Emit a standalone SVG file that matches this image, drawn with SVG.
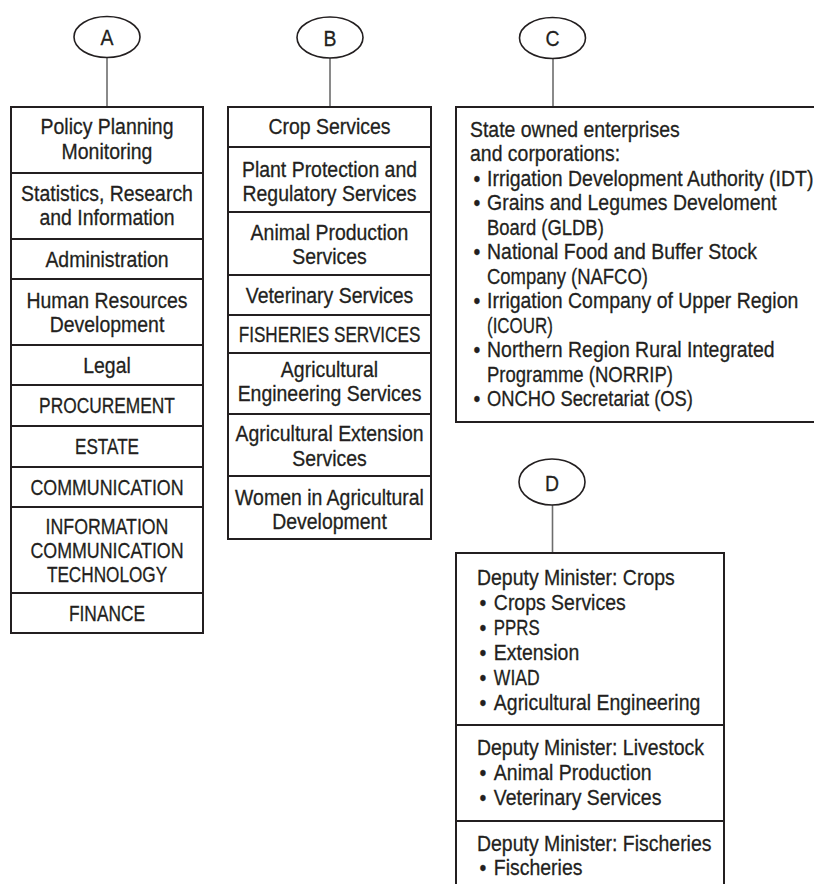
<svg xmlns="http://www.w3.org/2000/svg" width="814" height="884" viewBox="0 0 814 884">
<style>
.bg{fill:#fff}
.cell{fill:#fff;stroke:#231f20;stroke-width:2}
.oval{fill:#fff;stroke:#231f20;stroke-width:1.6}
.conn{stroke:#6d6d6d;stroke-width:1.6;fill:none}
.t{font-family:"Liberation Sans",Arial,sans-serif;font-size:22.5px;fill:#231f20;stroke:#231f20;stroke-width:0.3}
.m{text-anchor:middle}
</style>
<rect class="bg" x="0" y="0" width="814" height="884"/>
<g id="connectors">
<line class="conn" x1="107" y1="57" x2="107" y2="107"/>
<line class="conn" x1="330" y1="58" x2="330" y2="107"/>
<line class="conn" x1="553" y1="58" x2="553" y2="107"/>
<line class="conn" x1="552.5" y1="505" x2="552.5" y2="553"/>
</g>
<g id="label-A">
<ellipse class="oval" cx="107" cy="37" rx="33" ry="20.5"/>
<text class="t m" transform="translate(107,45) scale(0.865,1)">A</text>
</g>
<g id="label-B">
<ellipse class="oval" cx="330" cy="37.5" rx="33" ry="20.5"/>
<text class="t m" transform="translate(330,45.5) scale(0.865,1)">B</text>
</g>
<g id="label-C">
<ellipse class="oval" cx="552.5" cy="38" rx="33" ry="20.5"/>
<text class="t m" transform="translate(552.5,46) scale(0.865,1)">C</text>
</g>
<g id="label-D">
<ellipse class="oval" cx="552" cy="482" rx="33" ry="23"/>
<text class="t m" transform="translate(552,490.5) scale(0.865,1)">D</text>
</g>
<g id="box-A">
<rect class="cell" x="11" y="107" width="192" height="66"/>
<rect class="cell" x="11" y="173" width="192" height="66"/>
<rect class="cell" x="11" y="239" width="192" height="40"/>
<rect class="cell" x="11" y="279" width="192" height="66"/>
<rect class="cell" x="11" y="345" width="192" height="40"/>
<rect class="cell" x="11" y="385" width="192" height="41"/>
<rect class="cell" x="11" y="426" width="192" height="41"/>
<rect class="cell" x="11" y="467" width="192" height="40"/>
<rect class="cell" x="11" y="507" width="192" height="86"/>
<rect class="cell" x="11" y="593" width="192" height="40"/>
<g transform="translate(107,0) scale(0.865,1)">
<text class="t m" y="134.5">Policy Planning</text>
<text class="t m" y="159">Monitoring</text>
<text class="t m" y="201.5">Statistics, Research</text>
<text class="t m" y="225.5">and Information</text>
<text class="t m" y="267">Administration</text>
<text class="t m" y="308.5">Human Resources</text>
<text class="t m" y="332.5">Development</text>
<text class="t m" y="373">Legal</text>
<text class="t m" y="413.5" textLength="157" lengthAdjust="spacingAndGlyphs">PROCUREMENT</text>
<text class="t m" y="454.5" textLength="74" lengthAdjust="spacingAndGlyphs">ESTATE</text>
<text class="t m" y="495" textLength="177" lengthAdjust="spacingAndGlyphs">COMMUNICATION</text>
<text class="t m" y="534" textLength="142" lengthAdjust="spacingAndGlyphs">INFORMATION</text>
<text class="t m" y="558" textLength="177" lengthAdjust="spacingAndGlyphs">COMMUNICATION</text>
<text class="t m" y="582" textLength="139" lengthAdjust="spacingAndGlyphs">TECHNOLOGY</text>
<text class="t m" y="621.5" textLength="88" lengthAdjust="spacingAndGlyphs">FINANCE</text>
</g>
</g>
<g id="box-B">
<rect class="cell" x="228" y="107" width="203" height="40"/>
<rect class="cell" x="228" y="147" width="203" height="65"/>
<rect class="cell" x="228" y="212" width="203" height="63"/>
<rect class="cell" x="228" y="275" width="203" height="40"/>
<rect class="cell" x="228" y="315" width="203" height="38"/>
<rect class="cell" x="228" y="353" width="203" height="61"/>
<rect class="cell" x="228" y="414" width="203" height="62"/>
<rect class="cell" x="228" y="476" width="203" height="63"/>
<g transform="translate(329.5,0) scale(0.865,1)">
<text class="t m" y="134">Crop Services</text>
<text class="t m" y="177">Plant Protection and</text>
<text class="t m" y="201">Regulatory Services</text>
<text class="t m" y="240">Animal Production</text>
<text class="t m" y="264.5">Services</text>
<text class="t m" y="303">Veterinary Services</text>
<text class="t m" y="342.5" textLength="210" lengthAdjust="spacingAndGlyphs">FISHERIES SERVICES</text>
<text class="t m" y="377">Agricultural</text>
<text class="t m" y="401.5">Engineering Services</text>
<text class="t m" y="441.5">Agricultural Extension</text>
<text class="t m" y="466">Services</text>
<text class="t m" y="505">Women in Agricultural</text>
<text class="t m" y="529">Development</text>
</g>
</g>
<g id="box-C">
<rect class="cell" x="456" y="107" width="380" height="315"/>
<g transform="translate(470,0) scale(0.865,1)">
<text class="t" y="137">State owned enterprises</text>
<text class="t" y="161.5">and corporations:</text>
<text class="t" x="4" y="186">•</text>
<text class="t" x="19.7" y="186">Irrigation Development Authority (IDT)</text>
<text class="t" x="4" y="210.5">•</text>
<text class="t" x="19.7" y="210.5">Grains and Legumes Develoment</text>
<text class="t" x="19.7" y="235" textLength="135" lengthAdjust="spacingAndGlyphs">Board (GLDB)</text>
<text class="t" x="4" y="259.5">•</text>
<text class="t" x="19.7" y="259.5">National Food and Buffer Stock</text>
<text class="t" x="19.7" y="284" textLength="186" lengthAdjust="spacingAndGlyphs">Company (NAFCO)</text>
<text class="t" x="4" y="308.5">•</text>
<text class="t" x="19.7" y="308.5">Irrigation Company of Upper Region</text>
<text class="t" x="19.7" y="333" textLength="76" lengthAdjust="spacingAndGlyphs">(ICOUR)</text>
<text class="t" x="4" y="357.5">•</text>
<text class="t" x="19.7" y="357.5">Northern Region Rural Integrated</text>
<text class="t" x="19.7" y="382" textLength="215" lengthAdjust="spacingAndGlyphs">Programme (NORRIP)</text>
<text class="t" x="4" y="406.5">•</text>
<text class="t" x="19.7" y="406.5" textLength="238" lengthAdjust="spacingAndGlyphs">ONCHO Secretariat (OS)</text>
</g>
</g>
<g id="box-D">
<rect class="cell" x="456" y="553" width="268" height="172"/>
<rect class="cell" x="456" y="725" width="268" height="96"/>
<path class="cell" d="M456,890 V821 H724 V890"/>
<g transform="translate(477,0) scale(0.865,1)">
<text class="t" y="585">Deputy Minister: Crops</text>
<text class="t" x="3" y="610">•</text>
<text class="t" x="19.5" y="610">Crops Services</text>
<text class="t" x="3" y="635">•</text>
<text class="t" x="19.5" y="635" textLength="53" lengthAdjust="spacingAndGlyphs">PPRS</text>
<text class="t" x="3" y="660">•</text>
<text class="t" x="19.5" y="660">Extension</text>
<text class="t" x="3" y="685">•</text>
<text class="t" x="19.5" y="685" textLength="53" lengthAdjust="spacingAndGlyphs">WIAD</text>
<text class="t" x="3" y="710">•</text>
<text class="t" x="19.5" y="710">Agricultural Engineering</text>
<text class="t" y="755">Deputy Minister: Livestock</text>
<text class="t" x="3" y="780">•</text>
<text class="t" x="19.5" y="780">Animal Production</text>
<text class="t" x="3" y="805">•</text>
<text class="t" x="19.5" y="805">Veterinary Services</text>
<text class="t" y="851">Deputy Minister: Fischeries</text>
<text class="t" x="3" y="875">•</text>
<text class="t" x="19.5" y="875">Fischeries</text>
</g>
</g>
</svg>
